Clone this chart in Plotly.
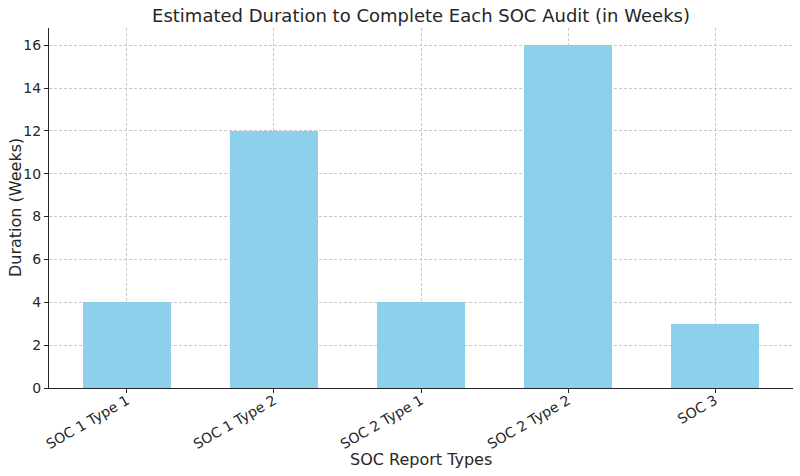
import plotly.graph_objects as go

categories = ["SOC 1 Type 1", "SOC 1 Type 2", "SOC 2 Type 1", "SOC 2 Type 2", "SOC 3"]
durations = [4, 12, 4, 16, 3]
y_ticks = [0, 2, 4, 6, 8, 10, 12, 14, 16]

fig = go.Figure(go.Bar(
    x=list(range(len(categories))), y=durations, width=0.6,
    marker=dict(color="#87CEEB", line=dict(width=0)), opacity=0.95,
))

font = "DejaVu Sans"
W, H = 800, 476
L, R, T, B = 49, 7, 28, 88
fig.update_layout(
    width=W, height=H,
    margin=dict(l=L, r=R, t=T, b=B, autoexpand=False),
    plot_bgcolor="white", paper_bgcolor="white",
    font=dict(family=font, color="#262626", size=14),
    title=dict(text="Estimated Duration to Complete Each SOC Audit (in Weeks)",
               x=421 / W, xanchor="center", y=1 - 16 / H, yanchor="middle",
               font=dict(size=18, color="#262626")),
    showlegend=False,
    bargap=0,
    annotations=[
        dict(text="SOC Report Types", xref="paper", yref="paper",
             x=0.5, y=-(459 - (H - B)) / (H - T - B), xanchor="center", yanchor="middle",
             showarrow=False, font=dict(size=16, color="#262626")),
        dict(text="Duration (Weeks)", xref="paper", yref="paper", textangle=-90,
             x=-(L - 15) / (W - L - R), y=(388 - 208) / (H - T - B), xanchor="center", yanchor="middle",
             showarrow=False, font=dict(size=16, color="#262626")),
    ],
)
fig.update_xaxes(
    range=[-0.53, 4.53], tickmode="array", tickvals=list(range(len(categories))),
    ticktext=categories, tickangle=-30, ticks="outside", ticklen=4, tickcolor="#262626",
    showline=True, linecolor="#262626", linewidth=1.2,
    showgrid=True, gridcolor="#c8c8c8", griddash="3px,2px", gridwidth=0.8,
    tickfont=dict(size=14), zeroline=False, automargin=False, ticklabelstandoff=-6,
)
fig.update_yaxes(
    range=[0, 16.8], tickmode="array", tickvals=y_ticks,
    ticks="outside", ticklen=4, tickcolor="#262626",
    showline=True, linecolor="#262626", linewidth=1.2,
    showgrid=True, gridcolor="#c8c8c8", griddash="3px,2px", gridwidth=0.8,
    tickfont=dict(size=14), zeroline=False, automargin=False,
)
fig.write_html("out.html", config={"displayModeBar": False},
               post_script="document.body.style.margin='0';document.body.style.overflow='hidden';")
